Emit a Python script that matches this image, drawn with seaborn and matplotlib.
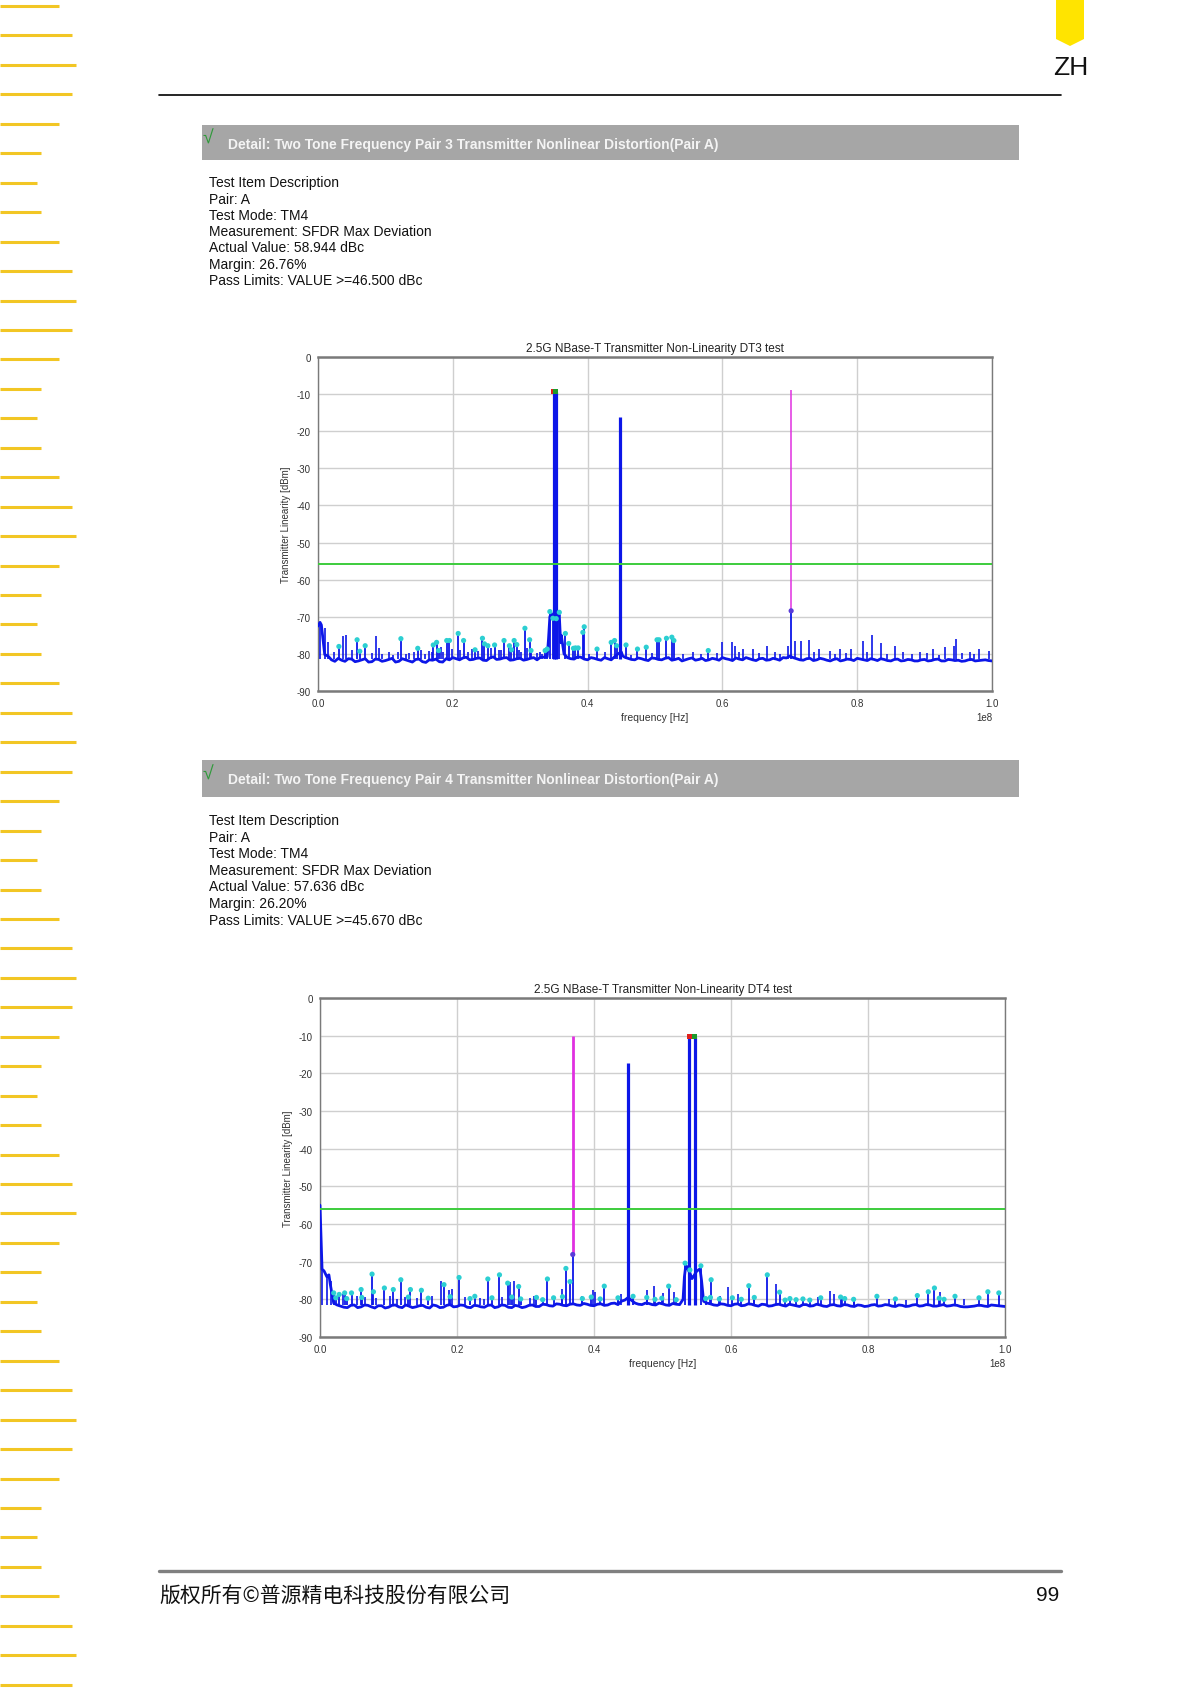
import numpy as np
import pandas as pd
import matplotlib
matplotlib.use("Agg")
import matplotlib.pyplot as plt
import seaborn as sns
from matplotlib.patches import Rectangle, Polygon
from matplotlib import font_manager

# page size in pixels
W, H = 1197, 1690

# ---------------- data ----------------
floor_mhz = np.arange(0, 101)          # noise floor, every 1 MHz
floor_half_mhz = np.arange(0.5, 100, 1.0)  # and in between

dt3_floor_db = [
    -72.5, -80.2, -81.6, -81.2, -82.0, -81.4, -81.9, -81.3, -82.1, -81.5,
    -81.8, -81.2, -82.0, -81.6, -82.2, -81.4, -82.3, -81.7, -82.1, -81.3,
    -81.0, -81.6, -80.9, -81.5, -81.1, -81.8, -80.8, -81.4, -81.0, -81.6,
    -81.2, -81.5, -81.0, -80.9, -80.8, -70.5, -77.0, -81.0, -81.4, -80.9,
    -81.6, -81.2, -81.7, -81.3, -80.8, -79.5, -81.2, -81.6, -81.3, -81.8,
    -81.2, -81.6, -81.0, -81.5, -81.9, -81.3, -81.7, -81.2, -81.6, -81.4,
    -81.0, -81.5, -81.1, -81.6, -81.3, -81.8, -81.2, -81.6, -81.4, -81.0,
    -80.6, -81.3, -81.7, -81.2, -81.6, -81.4, -81.9, -81.3, -81.7, -81.5,
    -81.2, -81.6, -81.3, -81.8, -81.5, -81.9, -81.4, -81.8, -81.6, -81.9,
    -81.5, -81.8, -81.4, -81.9, -81.6, -81.7, -81.9, -81.5, -81.8, -81.6,
    -81.9]
dt3_floor_half_db = [
    -72.2, -80.6, -82.0, -81.7, -81.3, -82.1, -81.6, -82.2, -81.4, -82.0,
    -81.5, -82.2, -81.3, -81.9, -81.5, -82.1, -81.6, -81.4, -82.2, -81.6,
    -81.3, -81.1, -81.6, -81.2, -81.7, -81.1, -81.5, -81.1, -81.7, -81.3,
    -81.7, -81.2, -81.6, -80.9, -69.5, -70.2, -80.0, -81.3, -80.8, -81.4,
    -81.0, -81.5, -81.0, -81.6, -80.0, -80.9, -81.5, -81.1, -81.6, -81.1,
    -81.5, -81.2, -81.7, -81.2, -81.6, -81.1, -81.5, -81.8, -81.2, -81.7,
    -81.3, -81.8, -81.4, -81.0, -81.6, -81.3, -81.7, -81.2, -81.7, -81.1,
    -81.0, -81.6, -81.3, -81.8, -81.2, -81.7, -81.5, -81.9, -81.4, -81.8,
    -81.4, -81.8, -81.5, -81.3, -81.8, -81.5, -81.9, -81.5, -81.9, -81.6,
    -81.9, -81.5, -81.9, -81.5, -81.8, -82.0, -81.6, -81.9, -81.7, -81.8]
dt3_skirt_mhz = [0.3, 33.8, 34.2, 34.4, 34.6, 35.6, 35.8, 36.1, 45.2]
dt3_skirt_db = [-71.5, -80.5, -76.0, -70.0, -69.0, -70.0, -69.5, -75.0, -80.5]

# spurs flagged with a cyan marker
dt3_spur_mhz = [3.1, 5.8, 6.2, 7.0, 12.3, 14.8, 17.1, 17.6, 17.9, 19.1, 19.5, 20.8, 21.6,
                23.3, 24.4, 24.7, 25.2, 26.2, 27.6, 28.4, 28.7, 29.1, 29.5, 30.7, 31.4,
                31.6, 33.7, 34.0, 34.4, 34.85, 35.35, 35.8, 36.7, 37.2, 37.9, 38.2, 38.6,
                39.3, 39.5, 41.4, 43.5, 44.0, 44.3, 45.7, 47.4, 48.7, 50.3, 50.6, 51.7,
                52.5, 52.8, 57.9]
dt3_spur_db = [-78.0, -76.2, -79.3, -77.8, -75.9, -78.5, -77.6, -76.9, -79.1, -76.4, -76.4,
               -74.5, -76.4, -78.9, -75.8, -77.3, -77.8, -77.6, -76.4, -77.8, -78.9, -76.4,
               -77.5, -73.1, -76.2, -79.1, -79.1, -78.7, -68.6, -70.4, -70.5, -68.8, -74.5,
               -77.2, -78.5, -78.4, -78.4, -74.2, -72.7, -78.7, -76.9, -76.4, -77.8, -77.6,
               -78.7, -78.2, -76.2, -76.2, -75.8, -75.5, -76.4, -79.1]
# spurs without marker
dt3_small_mhz = [0.3, 1.0, 1.5, 2.4, 3.7, 4.1, 5.0, 8.0, 8.6, 9.0, 9.5, 10.6, 11.2, 11.8,
                 13.0, 13.5, 14.2, 15.3, 15.9, 16.4, 16.9, 18.2, 18.5, 19.9, 21.1, 22.3,
                 22.8, 23.8, 25.7, 26.8, 27.1, 29.8, 30.1, 31.0, 32.5, 32.9, 33.3, 40.2,
                 42.6, 46.5, 49.5, 54.2, 55.6, 56.8, 59.2, 60.0, 61.4, 61.9, 62.5, 63.0,
                 64.6, 65.5, 66.6, 67.8, 68.5, 69.7, 70.7, 71.6, 72.9, 73.6, 74.4, 75.9,
                 76.7, 77.5, 78.3, 79.1, 80.9, 81.5, 82.2, 83.6, 84.4, 85.6, 86.8, 88.2,
                 89.3, 90.4, 91.2, 92.1, 93.0, 94.3, 94.7, 95.6, 96.8, 97.4, 98.1, 99.5]
dt3_small_db = [-71.4, -73.0, -76.9, -79.5, -75.3, -75.0, -79.0, -79.8, -75.3, -78.5, -80.0,
                -79.6, -80.2, -79.6, -80.0, -79.8, -79.4, -78.9, -80.0, -79.2, -79.5, -78.2,
                -79.6, -78.8, -79.0, -79.4, -78.6, -79.2, -78.5, -79.0, -78.9, -79.0, -79.6,
                -78.4, -79.8, -79.4, -80.0, -80.0, -79.5, -80.2, -79.8, -80.1, -79.6, -80.0,
                -79.8, -76.9, -76.9, -77.8, -79.5, -78.7, -78.7, -79.7, -77.8, -79.4, -80.0,
                -77.8, -76.6, -76.6, -76.2, -79.6, -78.7, -79.1, -80.0, -78.7, -79.8, -78.7,
                -76.4, -79.5, -75.0, -77.2, -80.0, -77.8, -79.6, -80.1, -79.6, -79.7, -78.7,
                -80.2, -78.2, -77.8, -76.0, -79.8, -79.5, -80.0, -78.7, -79.1]
dt3_tone_mhz = [34.96, 35.28, 44.8]
dt3_tone_db = [-9.3, -9.3, -16.1]
dt3_imd_mhz = [70.2]
dt3_imd_db = [-68.4]
dt3_imd_top = [-9.0]

dt4_floor_db = [
    -55.0, -74.0, -81.0, -81.8, -82.2, -81.5, -82.0, -81.6, -82.3, -81.7,
    -82.1, -81.5, -82.2, -81.8, -82.0, -81.6, -82.3, -81.7, -82.1, -81.4,
    -81.9, -81.6, -82.2, -81.7, -82.1, -81.5, -82.0, -81.6, -82.2, -81.8,
    -82.0, -81.5, -81.9, -81.4, -81.8, -81.3, -81.7, -81.2, -81.6, -81.3,
    -81.7, -81.2, -81.5, -81.0, -80.5, -79.5, -81.0, -81.4, -81.1, -81.5,
    -81.2, -81.6, -81.3, -80.0, -73.0, -72.5, -80.5, -81.2, -81.6, -81.3,
    -81.7, -81.2, -81.6, -81.3, -81.8, -81.4, -81.7, -81.3, -81.8, -81.5,
    -81.9, -81.4, -81.7, -81.5, -81.9, -81.4, -81.8, -81.5, -81.9, -81.6,
    -81.8, -81.4, -81.7, -81.5, -81.9, -81.6, -81.8, -81.4, -81.7, -81.5,
    -81.8, -81.4, -81.7, -81.6, -82.0, -81.9, -81.6, -81.8, -81.5, -81.7,
    -81.9]
dt4_floor_half_db = [
    -72.3, -76.0, -81.5, -82.1, -81.6, -82.2, -81.5, -82.0, -81.7, -82.3,
    -81.6, -82.0, -81.5, -82.2, -81.7, -82.1, -81.5, -82.2, -81.6, -82.0,
    -81.5, -82.1, -81.6, -82.0, -81.6, -82.2, -81.5, -82.1, -81.6, -82.2,
    -81.6, -81.9, -81.3, -81.7, -81.2, -81.6, -81.3, -81.5, -81.1, -81.6,
    -81.3, -81.6, -81.1, -81.4, -80.2, -80.3, -81.3, -81.0, -81.4, -81.0,
    -81.5, -81.1, -81.4, -71.2, -74.0, -72.2, -81.0, -81.5, -81.2, -81.6,
    -81.3, -81.7, -81.2, -81.6, -81.3, -81.8, -81.4, -81.6, -81.3, -81.7,
    -81.4, -81.8, -81.3, -81.8, -81.5, -81.7, -81.4, -81.8, -81.5, -81.9,
    -81.5, -81.8, -81.4, -81.8, -81.5, -81.9, -81.5, -81.8, -81.4, -81.8,
    -81.6, -81.8, -81.5, -81.9, -82.0, -81.8, -81.6, -81.9, -81.6, -81.8]
dt4_skirt_mhz = [0.3, 0.6, 1.3, 53.2, 53.4, 53.7, 54.3, 55.4, 55.7]
dt4_skirt_db = [-72.0, -72.5, -73.5, -74.0, -71.0, -72.0, -74.5, -72.0, -75.0]

dt4_spur_mhz = [2.0, 2.3, 2.8, 3.6, 3.9, 4.6, 6.0, 6.1, 7.6, 7.8, 9.4, 10.7, 11.8, 12.9, 13.2,
                14.8, 15.8, 18.1, 19.0, 20.3, 21.9, 22.6, 24.5, 25.1, 26.2, 27.4, 28.0,
                29.0, 29.3, 31.6, 32.5, 33.2, 34.1, 35.4, 35.9, 36.5, 38.3, 39.6, 40.9,
                41.5, 43.5, 45.7, 47.7, 48.9, 49.9, 50.9, 52.0, 53.3, 54.0, 55.6, 56.3,
                57.0, 57.1, 58.3, 60.2, 61.5, 62.6, 63.4, 65.3, 67.1, 67.9, 68.6, 69.5,
                70.5, 71.5, 73.1, 76.0, 76.6, 77.9, 81.3, 84.0, 87.2, 88.8, 89.7, 90.4,
                91.1, 92.7, 96.2, 97.5, 99.1]
dt4_spur_db = [-78.3, -79.6, -78.7, -78.3, -79.8, -78.3, -77.4, -79.5, -73.3, -78.0, -77.0,
               -77.4, -74.8, -79.4, -77.4, -77.6, -79.7, -76.1, -79.3, -74.2, -79.8, -79.2,
               -74.6, -79.6, -73.5, -75.7, -79.4, -76.6, -79.9, -79.5, -80.1, -74.6, -79.6,
               -79.3, -71.8, -75.3, -79.8, -79.4, -79.9, -76.5, -79.6, -79.2, -79.5, -80.0,
               -79.7, -76.5, -80.1, -70.4, -72.2, -71.1, -79.8, -79.5, -74.8, -79.9, -79.6,
               -80.0, -76.4, -79.5, -73.5, -78.1, -80.2, -79.8, -80.1, -79.9, -80.2, -79.6,
               -79.4, -79.8, -80.0, -79.2, -79.9, -79.0, -78.0, -77.0, -79.7, -80.0, -79.2,
               -79.6, -78.0, -78.3]
dt4_small_mhz = [0.3, 1.0, 1.6, 3.4, 5.4, 6.6, 8.2, 10.2, 11.3, 12.4, 14.1, 16.4, 17.6,
                 18.8, 19.3, 21.2, 23.4, 24.0, 26.6, 27.8, 28.3, 30.6, 31.2, 35.4, 38.2,
                 39.9, 40.1, 43.5, 44.0, 47.7, 48.8, 50.0, 51.7, 58.4, 59.6, 61.0, 63.3,
                 66.6, 72.7, 74.5, 75.0, 76.2, 78.0, 83.0, 85.6, 90.5, 94.0]
dt4_small_db = [-72.0, -73.6, -75.0, -78.5, -79.0, -79.5, -79.6, -79.2, -79.8, -79.4, -79.6,
                -79.0, -75.0, -77.4, -77.2, -79.4, -79.6, -79.8, -79.5, -75.5, -75.0, -79.6,
                -79.2, -77.2, -79.0, -77.4, -78.0, -79.0, -78.6, -77.6, -76.5, -78.3, -78.0,
                -79.2, -76.8, -78.5, -79.5, -75.9, -79.3, -77.9, -78.7, -79.5, -79.3, -80.0,
                -80.2, -78.0, -79.8]
dt4_tone_mhz = [44.9, 53.9, 54.7]
dt4_tone_db = [-17.3, -10.3, -10.3]
dt4_imd_mhz = [36.9]
dt4_imd_db = [-68.1]
dt4_imd_top = [-10.0]

limit_db = [-55.8, -56.0]
floor_ref_db = -81.5

titles = ["2.5G NBase-T Transmitter Non-Linearity DT3 test",
          "2.5G NBase-T Transmitter Non-Linearity DT4 test"]
headers = ["Detail: Two Tone Frequency Pair 3 Transmitter Nonlinear Distortion(Pair A)",
           "Detail: Two Tone Frequency Pair 4 Transmitter Nonlinear Distortion(Pair A)"]
desc_top = ["Test Item Description", "Pair: A", "Test Mode: TM4",
            "Measurement: SFDR Max Deviation", "Actual Value: 58.944 dBc",
            "Margin: 26.76%", "Pass Limits: VALUE >=46.500 dBc"]
desc_bottom = ["Test Item Description", "Pair: A", "Test Mode: TM4",
               "Measurement: SFDR Max Deviation", "Actual Value: 57.636 dBc",
               "Margin: 26.20%", "Pass Limits: VALUE >=45.670 dBc"]
stripe_len = [59, 72, 76, 72, 59, 41, 37, 41, 59, 72, 76, 72, 59, 41, 37, 41, 59, 72, 76,
              59, 41, 37, 41, 59, 72, 76, 72, 59, 41, 37, 41, 59, 72, 76, 72, 59, 41, 37,
              41, 59, 72, 76, 59, 41, 37, 41, 59, 72, 76, 72, 59, 41, 37, 41, 59, 72, 76, 72]

# ---------------- style ----------------
sns.set_style("white")
plt.rcParams["font.family"] = ["Liberation Sans", "Noto Sans CJK SC", "DejaVu Sans"]
plt.rcParams["axes.unicode_minus"] = False
names = {f.name for f in font_manager.fontManager.ttflist}
NARROW = ["Liberation Sans Narrow" if "Liberation Sans Narrow" in names else "Liberation Sans",
          "DejaVu Sans"]

BLUE = "#0c16e8"
CYAN = "#2ccfd2"
MAGENTA = "#e030e0"
LIMIT = "#3ccc3c"
YELLOW = "#f2c624"

fig = plt.figure(figsize=(W / 100, H / 100), dpi=100)
fig.patch.set_facecolor("white")

bg = fig.add_axes([0, 0, 1, 1], zorder=0)
bg.set_xlim(0, W)
bg.set_ylim(H, 0)
bg.axis("off")

# left decorative stripes
for i, ln in enumerate(stripe_len):
    y = 7 + 29.45 * i
    bg.plot([0, ln], [y, y], color=YELLOW, lw=2.2, solid_capstyle="butt")

# top-right tab + ZH
bg.add_patch(Polygon([(1056, 0), (1084, 0), (1084, 40), (1070, 47), (1056, 40)],
                     closed=True, color="#ffe400", lw=0))
bg.text(1071, 68, "ZH", fontsize=19, ha="center", va="center", color="#111111")
bg.plot([159, 1061], [96, 96], color="black", lw=1.2)

# footer
bg.plot([159, 1061], [1572, 1572], color="#808080", lw=2.4)
bg.text(159, 1596, "版权所有©普源精电科技股份有限公司", fontsize=15, ha="left", va="center",
        family=["Noto Sans CJK SC", "DejaVu Sans"], color="#111111")
bg.text(1059, 1596, "99", fontsize=15, ha="right", va="center", color="#111111")


def section(bar_top, bar_h, header, lines, y0, dy, clip_y=None):
    bg.add_patch(Rectangle((202, bar_top), 817, bar_h, color="#a6a6a6", lw=0))
    mid = bar_top + bar_h / 2
    bg.text(208, mid - 4, "\u221a", fontsize=14, color="#2f9a3a", ha="center", va="center")
    bg.text(228, mid + 1, header, fontsize=10, fontweight="bold", color="#f4f4f4",
            ha="left", va="center")
    for i, s in enumerate(lines):
        t = bg.text(209, y0 + dy * i, s, fontsize=10, color="#111111", ha="left", va="center")
        if clip_y is not None:
            t.set_clip_on(True)
            t.set_clip_path(Rectangle((0, 0), W, clip_y, transform=bg.transData))


section(126, 35, headers[0], desc_top, 183.5, 16.2, clip_y=287)
section(761, 37, headers[1], desc_bottom, 821, 16.6)


def spectrum(ax, floor_db, half_db, skirt_mhz, skirt_db, spur_mhz, spur_db, small_mhz,
             small_db, tone_mhz, tone_db, marked, imd_mhz, imd_db, imd_top, limit, title,
             mag_lw):
    trace = pd.DataFrame({
        "f": np.concatenate([floor_mhz, floor_half_mhz, skirt_mhz]) * 1e6,
        "db": np.concatenate([floor_db, half_db, skirt_db]),
    }).sort_values("f")
    ax.axhline(limit, color=LIMIT, lw=1.4, zorder=6)
    sns.lineplot(data=trace, x="f", y="db", ax=ax, color=BLUE, lw=2.0,
                 estimator=None, sort=True, zorder=3)
    ax.vlines(np.array(small_mhz) * 1e6, floor_ref_db, small_db, color=BLUE, lw=1.2, zorder=3)
    ax.vlines(np.array(spur_mhz) * 1e6, floor_ref_db, spur_db, color=BLUE, lw=1.3, zorder=3)
    ax.vlines(np.array(tone_mhz) * 1e6, floor_ref_db, tone_db, color=BLUE, lw=2.3, zorder=4)
    ax.vlines(np.array(imd_mhz) * 1e6, floor_ref_db, imd_db, color=BLUE, lw=1.3, zorder=4)
    ax.vlines(np.array(imd_mhz) * 1e6, imd_db, imd_top, color=MAGENTA, lw=mag_lw, zorder=4)
    sns.scatterplot(x=np.array(spur_mhz) * 1e6, y=spur_db, ax=ax, color=CYAN, s=14,
                    edgecolor="none", zorder=5)
    sns.scatterplot(x=np.array(imd_mhz) * 1e6, y=imd_db, ax=ax, color="#5a3cd8", s=14,
                    edgecolor="none", zorder=7)
    sns.scatterplot(x=[tone_mhz[marked] * 1e6], y=[tone_db[marked]], ax=ax, color="#e0201c",
                    s=14, marker="s", edgecolor="none", zorder=7)
    sns.scatterplot(x=[tone_mhz[marked + 1] * 1e6], y=[tone_db[marked + 1]], ax=ax,
                    color="#1c9a2c", s=14, marker="s", edgecolor="none", zorder=7)

    ax.set_xlim(0, 1e8)
    ax.set_ylim(-90, 0)
    ax.set_xticks(np.arange(0, 1.01e8, 2e7))
    ax.set_yticks(np.arange(-90, 1, 10))
    ax.grid(True, color="#cfcfcf", lw=1.0)
    ax.set_axisbelow(True)
    for side in ["left", "right"]:
        ax.spines[side].set_color("#7a7a7a")
        ax.spines[side].set_linewidth(1.0)
    for side in ["top", "bottom"]:
        ax.spines[side].set_color("#7a7a7a")
        ax.spines[side].set_linewidth(1.8)
    ax.tick_params(axis="both", length=3, width=0.8, color="#555555", pad=2,
                   labelsize=7, labelcolor="#333333")
    for lab in ax.get_xticklabels() + ax.get_yticklabels():
        lab.set_family(NARROW)
    ax.xaxis.get_offset_text().set_fontsize(7)
    ax.xaxis.get_offset_text().set_family(NARROW)
    ax.set_title(title, fontsize=8.5, pad=4, color="#222222", family=NARROW)
    ax.set_xlabel("frequency [Hz]", fontsize=7.5, color="#333333", labelpad=3, family=NARROW)
    ax.set_ylabel("Transmitter Linearity [dBm]", fontsize=7, color="#333333", labelpad=4,
                  family=NARROW)


ax1 = fig.add_axes([318 / W, 1 - 692 / H, 674 / W, 334 / H], zorder=2)
spectrum(ax1, dt3_floor_db, dt3_floor_half_db, dt3_skirt_mhz, dt3_skirt_db, dt3_spur_mhz,
         dt3_spur_db, dt3_small_mhz, dt3_small_db, dt3_tone_mhz, dt3_tone_db, 0,
         dt3_imd_mhz, dt3_imd_db, dt3_imd_top, limit_db[0], titles[0], 1.1)

ax2 = fig.add_axes([320 / W, 1 - 1338 / H, 685 / W, 339 / H], zorder=2)
spectrum(ax2, dt4_floor_db, dt4_floor_half_db, dt4_skirt_mhz, dt4_skirt_db, dt4_spur_mhz,
         dt4_spur_db, dt4_small_mhz, dt4_small_db, dt4_tone_mhz, dt4_tone_db, 1,
         dt4_imd_mhz, dt4_imd_db, dt4_imd_top, limit_db[1], titles[1], 2.0)

fig.savefig("out.png", dpi=100, facecolor="white")
